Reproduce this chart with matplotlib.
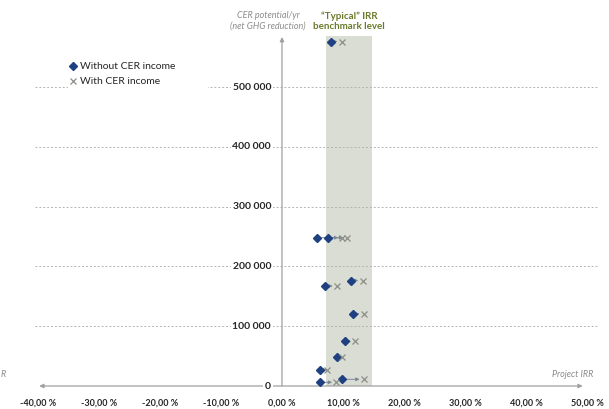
import matplotlib.pyplot as plt
import numpy as np

plt.rcParams['font.family'] = ['Lato', 'DejaVu Sans']

# CER potential per year (net GHG reduction) for each project
cer = [576000, 248000, 248000, 176400, 167200, 120400, 74700, 47700, 26800, 11200, 6200]
# project IRR in % without and with CER income
irr_without = [8.1, 5.7, 7.5, 11.3, 7.0, 11.7, 10.3, 9.1, 6.3, 9.8, 6.3]
irr_with = [9.8, 9.9, 10.7, 13.2, 9.0, 13.4, 12.0, 9.8, 7.4, 13.4, 8.9]

# "typical" IRR benchmark band (%)
bench_lo, bench_hi = 7.2, 14.8

x_ticks = [-40, -30, -20, -10, 0, 10, 20, 30, 40, 50]
y_ticks = [0, 100000, 200000, 300000, 400000, 500000]

navy = '#1f4182'
grey_x = '#8c8f88'

fig = plt.figure(figsize=(6.09, 4.09), dpi=100)
ax = fig.add_axes([0, 0, 1, 1])
ax.axis('off')
ax.set_xlim(-46.23, 53.61)
ax.set_ylim(-38460, 645490)

# benchmark band
ax.fill_between([bench_lo, bench_hi], 0, 585300, color='#d9ddd3', lw=0, zorder=1)
ax.text((bench_lo + bench_hi) / 2, 610000, '\u201cTypical\u201d IRR\nbenchmark level',
        ha='center', va='center', fontsize=7, fontweight='bold', color='#6a7a2c',
        linespacing=1.25)

# horizontal dashed gridlines
for v in y_ticks[1:]:
    ax.plot([-40.5, 51.6], [v, v], ls=(0, (2, 2)), color='#b4b4b4', lw=0.7, zorder=2)

# axes with arrows
ax.annotate('', xy=(-39.8, 0), xytext=(49.3, 0),
            arrowprops=dict(arrowstyle='<|-|>', color='#a0a0a0', lw=0.9,
                            mutation_scale=6, shrinkA=0, shrinkB=0), zorder=3)
ax.annotate('', xy=(0, 583600), xytext=(0, 0),
            arrowprops=dict(arrowstyle='-|>', color='#a0a0a0', lw=0.9,
                            mutation_scale=6, shrinkA=0, shrinkB=0), zorder=3)

# tick labels
for v in y_ticks:
    lab = '0' if v == 0 else f'{v:,}'.replace(',', ' ')
    ax.text(-1.8, v, lab, ha='right', va='center', fontsize=7.5, fontweight='bold',
            color='#262626', zorder=4,
            bbox=dict(boxstyle='square,pad=0.15', fc='white', ec='none'))
for v in x_ticks:
    ax.text(v, -28400, f'{v:.2f}'.replace('.', ',') + ' %', ha='center', va='center',
            fontsize=6.5, fontweight='bold', color='#262626')

# axis titles
ax.text(-2.3, 611000, 'CER potential/yr\n(net GHG reduction)', ha='center', va='center',
        fontsize=6.5, style='italic', color='#8c8c8c', linespacing=1.3)
ax.text(51.0, 18400, 'Project IRR', ha='right', va='center', fontsize=6.5,
        style='italic', color='#8c8c8c')
# tail of the neighbouring chart's axis title, cropped in the original
ax.text(-45.2, 18400, 'R', ha='right', va='center', fontsize=6.5,
        style='italic', color='#8c8c8c')

# arrows from "without" to "with"
for xw, xc, y in zip(irr_without, irr_with, cer):
    ax.annotate('', xy=(xc, y), xytext=(xw, y),
                arrowprops=dict(arrowstyle='-|>', color='#7d8799', lw=0.7,
                                mutation_scale=5, shrinkA=3, shrinkB=3), zorder=4)

h1, = ax.plot(irr_without, cer, ls='none', marker='D', ms=4, color=navy,
              mec=navy, zorder=5, label='Without CER income')
h2, = ax.plot(irr_with, cer, ls='none', marker='x', ms=4.5, mew=0.9, color=grey_x,
              zorder=5, label='With CER income')

leg = ax.legend(handles=[h1, h2], loc='upper left', mode='expand',
                bbox_to_anchor=(0.111, 0.768, 0.2307, 0.0877), frameon=True,
                fontsize=7.5, handlelength=0.5, handletextpad=0.4, labelspacing=0.55,
                borderpad=0.3, borderaxespad=0, fancybox=False, markerscale=0.9)
leg.get_frame().set_edgecolor('none')
leg.get_frame().set_facecolor('white')
leg.get_frame().set_alpha(1)
leg.set_zorder(6)
for t in leg.get_texts():
    t.set_color('#262626')

fig.savefig('out.png', dpi=100)
